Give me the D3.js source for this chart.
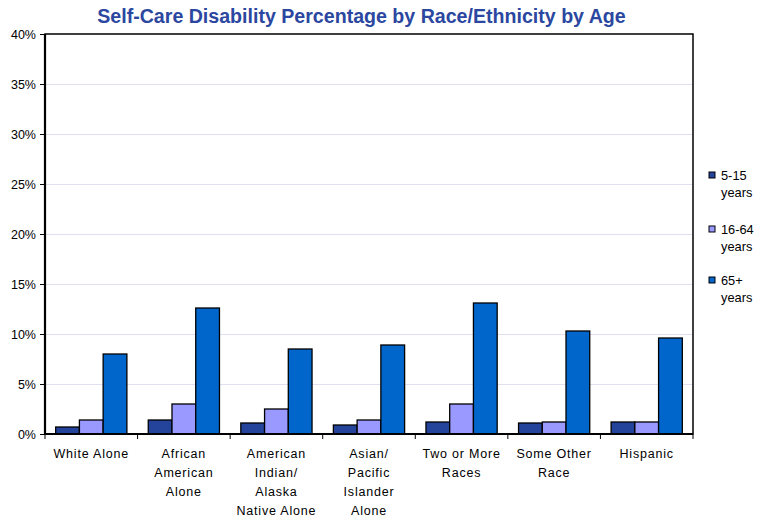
<!DOCTYPE html>
<html><head><meta charset="utf-8">
<script src="https://cdn.jsdelivr.net/npm/d3@7"></script>
<style>body{margin:0;background:#fff}svg{display:block}text{font-family:"Liberation Sans",Arial,sans-serif}</style>
</head><body><svg id="c" width="761" height="520"></svg>
<script>
const categories = ["White Alone","African American Alone","American Indian/ Alaska Native Alone","Asian/ Pacific Islander Alone","Two or More Races","Some Other Race","Hispanic"];
const categoryLines = [["White Alone"],["African","American","Alone"],["American","Indian/","Alaska","Native Alone"],["Asian/","Pacific","Islander","Alone"],["Two or More","Races"],["Some Other","Race"],["Hispanic"]];
const seriesNames = ["5-15 years","16-64 years","65+ years"];
const seriesLines = [["5-15","years"],["16-64","years"],["65+","years"]];
const age5to15 = [0.7,1.4,1.1,0.9,1.2,1.1,1.2];
const age16to64 = [1.4,3.0,2.5,1.4,3.0,1.2,1.2];
const age65plus = [8.0,12.6,8.5,8.9,13.1,10.3,9.6];
const yTicks = [0,5,10,15,20,25,30,35,40];
const colors = ["#24449C","#9999FF","#0066CC"];

const series = [age5to15, age16to64, age65plus];
const svg = d3.select("#c");
const m = {l:45, t:34, r:693, b:434};
const x = d3.scaleBand().domain(categories).range([m.l, m.r]).paddingInner(0).paddingOuter(0);
const y = d3.scaleLinear().domain([0,40]).range([m.b, m.t]);
const xs = d3.scaleBand().domain(d3.range(3)).range([0, x.bandwidth()]).paddingInner(0).paddingOuter(0.45);

svg.append("text").attr("x",361.5).attr("y",23).attr("text-anchor","middle")
  .attr("font-size",19.6).attr("font-weight","bold").attr("fill","#2B47A0")
  .text("Self-Care Disability Percentage by Race/Ethnicity by Age");

// gridlines
svg.append("g").selectAll("line").data(yTicks.filter(d=>d>0&&d<40)).join("line")
  .attr("x1",m.l).attr("x2",m.r).attr("y1",d=>y(d)+0.5).attr("y2",d=>y(d)+0.5)
  .attr("stroke","#E0E0F0").attr("stroke-width",1);

// bars
const g = svg.append("g");
categories.forEach((c,i)=>{
  series.forEach((s,j)=>{
    g.append("rect").attr("x",x(c)+xs(j)).attr("y",y(s[i]))
      .attr("width",xs.bandwidth()).attr("height",y(0)-y(s[i]))
      .attr("fill",colors[j]).attr("stroke","#000").attr("stroke-width",1.3);
  });
});

// frame
svg.append("rect").attr("x",m.l).attr("y",m.t).attr("width",m.r-m.l).attr("height",m.b-m.t)
  .attr("fill","none").attr("stroke","#000").attr("stroke-width",1.5);
svg.append("line").attr("x1",m.l).attr("x2",m.r).attr("y1",m.b).attr("y2",m.b).attr("stroke","#000").attr("stroke-width",2.2);
svg.append("line").attr("x1",m.l).attr("x2",m.l).attr("y1",m.t).attr("y2",m.b).attr("stroke","#000").attr("stroke-width",2.2);

// y axis
const ya = d3.axisLeft(y).tickValues(yTicks).tickSize(5).tickFormat(d=>d+"%");
const yg = svg.append("g").attr("transform",`translate(${m.l},0)`).call(ya);
yg.select(".domain").remove();
yg.selectAll("line").attr("stroke","#000");
yg.selectAll("text").attr("font-size",12.5).attr("fill","#000").attr("x",-9).attr("font-family","Liberation Sans, Arial, sans-serif");

// x ticks
const bounds = categories.map(c=>x(c)).concat([m.r]);
svg.append("g").selectAll("line").data(bounds).join("line")
  .attr("x1",d=>d).attr("x2",d=>d).attr("y1",m.b).attr("y2",m.b+5).attr("stroke","#000").attr("stroke-width",1);

// x labels
categories.forEach((c,i)=>{
  const cx = x(c)+x.bandwidth()/2;
  const t = svg.append("text").attr("text-anchor","middle")
    .attr("font-size",12.5).attr("letter-spacing",0.8).attr("fill","#000");
  categoryLines[i].forEach((ln,k)=>{
    t.append("tspan").attr("x",cx).attr("y",458+k*19).text(ln);
  });
});

// legend
const ly = [176,230,281];
seriesNames.forEach((s,j)=>{
  svg.append("rect").attr("x",709).attr("y",ly[j]-4).attr("width",6).attr("height",6)
    .attr("fill",colors[j]).attr("stroke","#000").attr("stroke-width",1);
  const t = svg.append("text").attr("font-size",12.8).attr("fill","#000");
  seriesLines[j].forEach((ln,k)=>{
    t.append("tspan").attr("x",721).attr("y",ly[j]+4+k*17).text(ln);
  });
});
</script></body></html>
